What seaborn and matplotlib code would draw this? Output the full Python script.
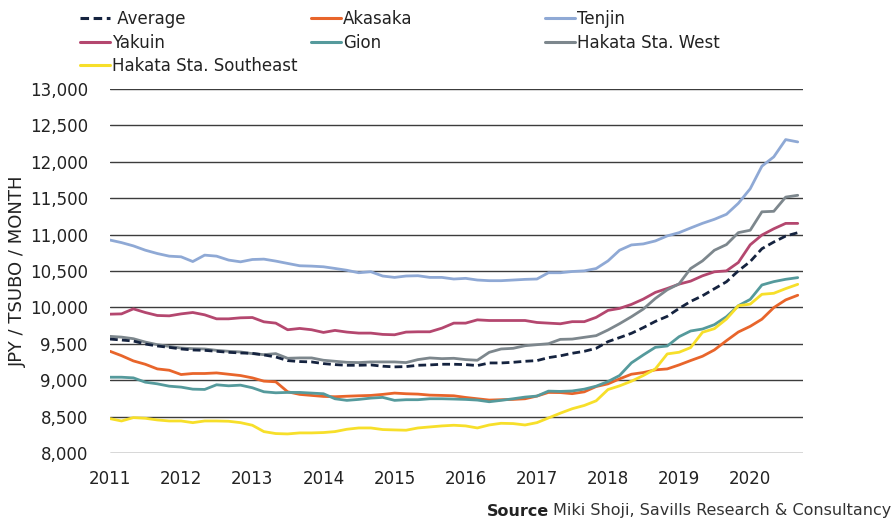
import pandas as pd
import numpy as np
import matplotlib
matplotlib.use("Agg")
import matplotlib.pyplot as plt
import matplotlib.dates as mdates
from matplotlib.lines import Line2D
from matplotlib.ticker import FuncFormatter
import seaborn as sns

# ------------------ Data (bi-monthly, Jan 2011 - Sep 2020) ------------------
dates = pd.date_range("2011-01-01", periods=59, freq="2MS")

average = [9565, 9552, 9538, 9497, 9470, 9451, 9429, 9415, 9410, 9397,
           9383, 9374, 9369, 9347, 9319, 9269, 9256, 9251, 9228, 9214,
           9205, 9205, 9210, 9192, 9183, 9187, 9205, 9210, 9219, 9219,
           9214, 9201, 9237, 9237, 9246, 9260, 9269, 9310, 9335, 9370,
           9397, 9438, 9530, 9585, 9644, 9722, 9808, 9877, 9986, 10082,
           10160, 10256, 10352, 10502, 10630, 10806, 10898, 10980, 11026]
akasaka = [9397, 9337, 9265, 9219, 9155, 9137, 9078, 9092, 9092, 9100,
           9082, 9064, 9032, 8987, 8978, 8841, 8805, 8791, 8777, 8773,
           8780, 8786, 8791, 8805, 8823, 8814, 8809, 8795, 8791, 8786,
           8763, 8745, 8727, 8732, 8736, 8745, 8782, 8832, 8830, 8815,
           8840, 8913, 8950, 9018, 9082, 9105, 9142, 9155, 9210, 9270,
           9329, 9416, 9543, 9662, 9740, 9838, 9997, 10103, 10167]
tenjin = [10925, 10890, 10845, 10786, 10740, 10704, 10695, 10630, 10718, 10704,
          10650, 10626, 10658, 10663, 10636, 10604, 10572, 10567, 10558, 10535,
          10510, 10476, 10490, 10431, 10412, 10431, 10435, 10412, 10412, 10390,
          10399, 10376, 10367, 10367, 10376, 10385, 10390, 10476, 10476, 10493,
          10502, 10534, 10639, 10785, 10858, 10872, 10913, 10982, 11027, 11091,
          11155, 11210, 11279, 11430, 11630, 11940, 12068, 12305, 12273]
yakuin = [9907, 9911, 9980, 9930, 9889, 9884, 9911, 9930, 9898, 9843,
          9843, 9857, 9861, 9802, 9784, 9693, 9711, 9693, 9656, 9684,
          9661, 9647, 9647, 9629, 9624, 9661, 9665, 9665, 9715, 9784,
          9784, 9829, 9820, 9820, 9820, 9820, 9793, 9784, 9775, 9804,
          9804, 9863, 9959, 9986, 10041, 10114, 10206, 10260, 10320, 10361,
          10434, 10489, 10502, 10617, 10860, 10994, 11080, 11154, 11154]
gion = [9041, 9041, 9032, 8973, 8950, 8918, 8905, 8877, 8873, 8937,
        8923, 8932, 8896, 8841, 8827, 8832, 8832, 8823, 8814, 8745,
        8723, 8736, 8754, 8764, 8723, 8732, 8732, 8745, 8745, 8741,
        8736, 8727, 8704, 8723, 8745, 8768, 8782, 8850, 8846, 8852,
        8877, 8918, 8982, 9064, 9238, 9347, 9452, 9470, 9598, 9676,
        9703, 9763, 9872, 10023, 10110, 10308, 10354, 10386, 10409]
hakata_west = [9602, 9592, 9570, 9524, 9488, 9465, 9442, 9433, 9429, 9410,
               9397, 9388, 9365, 9351, 9365, 9301, 9306, 9306, 9274, 9260,
               9246, 9242, 9251, 9251, 9251, 9242, 9283, 9306, 9296, 9301,
               9283, 9274, 9383, 9429, 9438, 9474, 9488, 9501, 9561, 9565,
               9589, 9612, 9690, 9776, 9872, 9977, 10123, 10242, 10324, 10534,
               10639, 10785, 10863, 11027, 11060, 11313, 11320, 11515, 11540]
hakata_se = [8472, 8440, 8486, 8477, 8454, 8440, 8440, 8417, 8440, 8440,
             8436, 8417, 8381, 8294, 8267, 8262, 8276, 8276, 8281, 8294,
             8326, 8344, 8344, 8322, 8317, 8313, 8344, 8358, 8372, 8381,
             8372, 8344, 8385, 8408, 8404, 8385, 8417, 8481, 8547, 8608,
             8653, 8717, 8872, 8922, 8986, 9064, 9155, 9361, 9384, 9448,
             9658, 9708, 9840, 10023, 10045, 10180, 10194, 10258, 10317]

series = {
    "Akasaka": akasaka,
    "Tenjin": tenjin,
    "Yakuin": yakuin,
    "Gion": gion,
    "Hakata Sta. West": hakata_west,
    "Hakata Sta. Southeast": hakata_se,
    "Average": average,
}
colors = {
    "Average": "#15233f",
    "Akasaka": "#e8652b",
    "Tenjin": "#8fa9d5",
    "Yakuin": "#b4476f",
    "Gion": "#559a9c",
    "Hakata Sta. West": "#7d878d",
    "Hakata Sta. Southeast": "#f7df2a",
}

# long-form table for seaborn
df = pd.concat(
    [pd.DataFrame({"date": dates, "rent": vals, "area": name}) for name, vals in series.items()],
    ignore_index=True,
)

# ------------------ Plot ------------------
sns.set_theme(style="white")
plt.rcParams["font.family"] = ["DejaVu Sans"]

fig = plt.figure(figsize=(8.93, 5.19), dpi=100)
ax = fig.add_axes([110 / 893, 1 - 453 / 519, 693 / 893, 364 / 519])

dash_map = {name: "" for name in series}
dash_map["Average"] = (2.8, 1.5)
sns.lineplot(data=df, x="date", y="rent", hue="area", style="area",
             palette=colors, dashes=dash_map, linewidth=2.0,
             legend=False, ax=ax)

ax.set_ylim(8000, 13000)
ax.set_xlim(pd.Timestamp("2011-01-01"), pd.Timestamp("2020-09-28"))
ax.set_yticks(np.arange(8000, 13001, 500))
ax.yaxis.set_major_formatter(FuncFormatter(lambda v, p: f"{v:,.0f}"))
ax.xaxis.set_major_locator(mdates.YearLocator())
ax.xaxis.set_major_formatter(mdates.DateFormatter("%Y"))
ax.yaxis.grid(True, color="#3c3c3c", linewidth=1.0)
ax.xaxis.grid(False)
ax.set_axisbelow(True)
for s in ax.spines.values():
    s.set_visible(False)
ax.tick_params(axis="both", length=0, labelsize=12, colors="#222222")
ax.tick_params(axis="y", pad=16)
ax.tick_params(axis="x", pad=12)
ax.set_xlabel("")
ax.set_ylabel("")

fig.text(18 / 893, 1 - 271 / 519, "JPY / TSUBO / MONTH", rotation=90,
         ha="center", va="center", fontsize=13, color="#222222")

# ------------------ Legend (three fixed columns, like the original) ------------------
def handle(name):
    ls = (0, (2.8, 1.5)) if name == "Average" else "-"
    return Line2D([], [], color=colors[name], lw=2.2, linestyle=ls)

columns = [
    (80, ["Average", "Yakuin", "Hakata Sta. Southeast"]),
    (311, ["Akasaka", "Gion"]),
    (545, ["Tenjin", "Hakata Sta. West"]),
]
for xpix, names in columns:
    labels = [" Average" if n == "Average" else n for n in names]
    leg = fig.legend([handle(n) for n in names], labels,
                     loc="upper left", bbox_to_anchor=(xpix / 893, 1 - 10 / 519),
                     frameon=False, fontsize=12, borderpad=0, borderaxespad=0,
                     handlelength=1.8, handletextpad=0.12, labelspacing=0.33)
    for t in leg.get_texts():
        t.set_color("#222222")

# ------------------ Source note ------------------
renderer = fig.canvas.get_renderer()
src = fig.text(891 / 893, 1 - 511 / 519, "Miki Shoji, Savills Research & Consultancy",
               ha="right", va="center", fontsize=11.5, color="#333333")
bb = src.get_window_extent(renderer=renderer)
fig.text((bb.x0 - 4) / fig.bbox.width, 1 - 511 / 519, "Source",
         ha="right", va="center", fontsize=11.5, fontweight="bold", color="#222222")

fig.savefig("out.png", dpi=100)
